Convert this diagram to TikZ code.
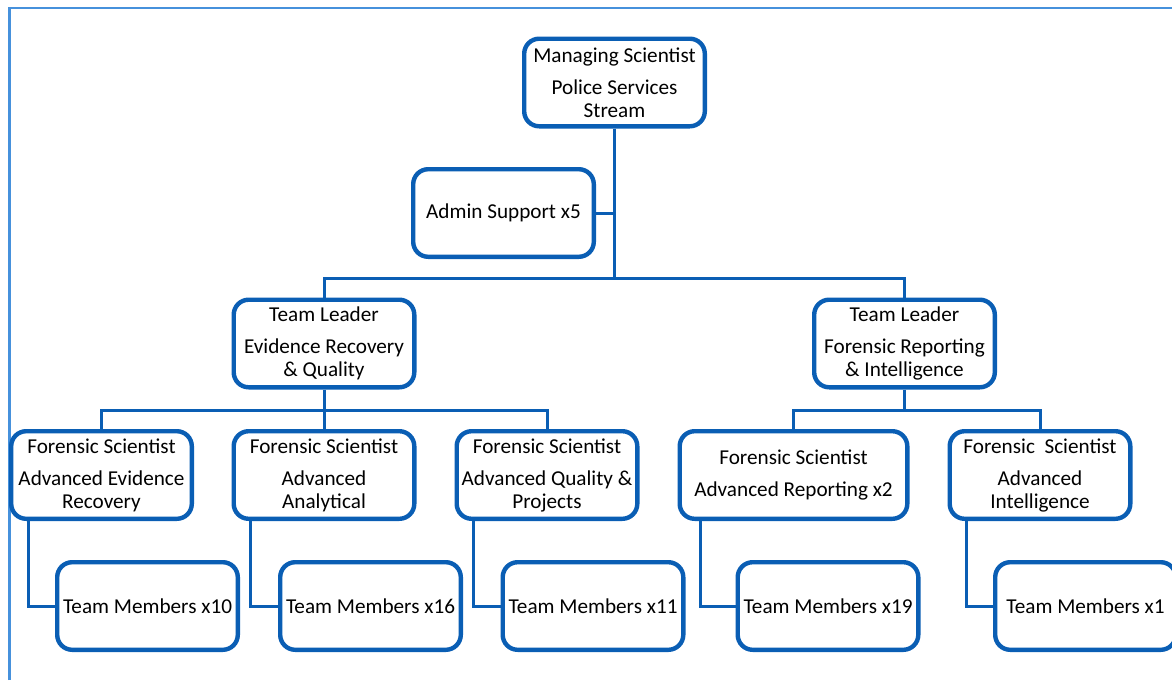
\documentclass[tikz,border=0pt]{standalone}
\usepackage{fontspec}
\setmainfont{Carlito}
\definecolor{boxblue}{RGB}{10,94,180}
\definecolor{frameblue}{RGB}{70,145,220}

\begin{document}
\begin{tikzpicture}[x=0.5pt,y=-0.5pt,
    box/.style={draw=boxblue,line width=2.2pt,rounded corners=7.5pt,fill=white,
      minimum width=90.3pt,minimum height=43.8pt,align=center,inner sep=2pt,
      font=\fontsize{10.6pt}{11.5pt}\selectfont},
    link/.style={draw=boxblue,line width=1.5pt}]
      \clip (0,0) rectangle (1172,680) ;
      \draw[frameblue,line width=1.2pt] (9.5,680)--(9.5,8)--(1172,8) ;
      \node[box] (ms) at (614.5,82.5) {Managing Scientist\\[4.5pt]Police Services\\Stream};
      \node[box] (admin) at (503.5,213) {Admin Support x5};
      \node[box] (tl1) at (324,343.5) {Team Leader\\[4.5pt]Evidence Recovery\\\& Quality};
      \node[box] (tl2) at (904.5,343.5) {Team Leader\\[4.5pt]Forensic Reporting\\\& Intelligence};
      \node[box] (fs1) at (101.5,475) {Forensic Scientist\\[4.5pt]Advanced Evidence\\Recovery};
      \node[box] (fs2) at (324,475) {Forensic Scientist\\[4.5pt]Advanced\\Analytical};
      \node[box] (fs3) at (547,475) {Forensic Scientist\\[4.5pt]Advanced Quality \&\\Projects};
      \node[box,minimum width=113.8pt] (fs4) at (793.5,475) {Forensic Scientist\\[4.5pt]Advanced Reporting x2};
      \node[box] (fs5) at (1040,475) {Forensic\ \ Scientist\\[4.5pt]Advanced\\Intelligence};
      \node[box] (tm1) at (147.5,606) {Team Members x10};
      \node[box] (tm2) at (370.5,606) {Team Members x16};
      \node[box] (tm3) at (593,606) {Team Members x11};
      \node[box] (tm4) at (828,606) {Team Members x19};
      \node[box] (tm5) at (1085.5,606) {Team Members x1};
      \coordinate (bus1) at (614.5,278) ;
      \coordinate (bus2) at (324,410) ;
      \coordinate (bus3) at (904.5,410) ;
      \draw[link] (ms.south)--(bus1) ;
      \draw[link] (admin.east)--(admin.east -| bus1) ;
      \draw[link] (tl1.north) |- (bus1) -| (tl2.north) ;
      \draw[link] (tl1.south)--(bus2) ;
      \draw[link] (fs1.north) |- (bus2) -| (fs3.north) ;
      \draw[link] (bus2)--(fs2.north) ;
      \draw[link] (tl2.south)--(bus3) ;
      \draw[link] (fs4.north) |- (bus3) -| (fs5.north) ;
      \draw[link] (fs1.south west) ++(19,0) |- (tm1.west) ;
      \draw[link] (fs2.south west) ++(19,0) |- (tm2.west) ;
      \draw[link] (fs3.south west) ++(19,0) |- (tm3.west) ;
      \draw[link] (fs4.south west) ++(23,0) |- (tm4.west) ;
      \draw[link] (fs5.south west) ++(19,0) |- (tm5.west) ;
    \end{tikzpicture}
\end{document}
